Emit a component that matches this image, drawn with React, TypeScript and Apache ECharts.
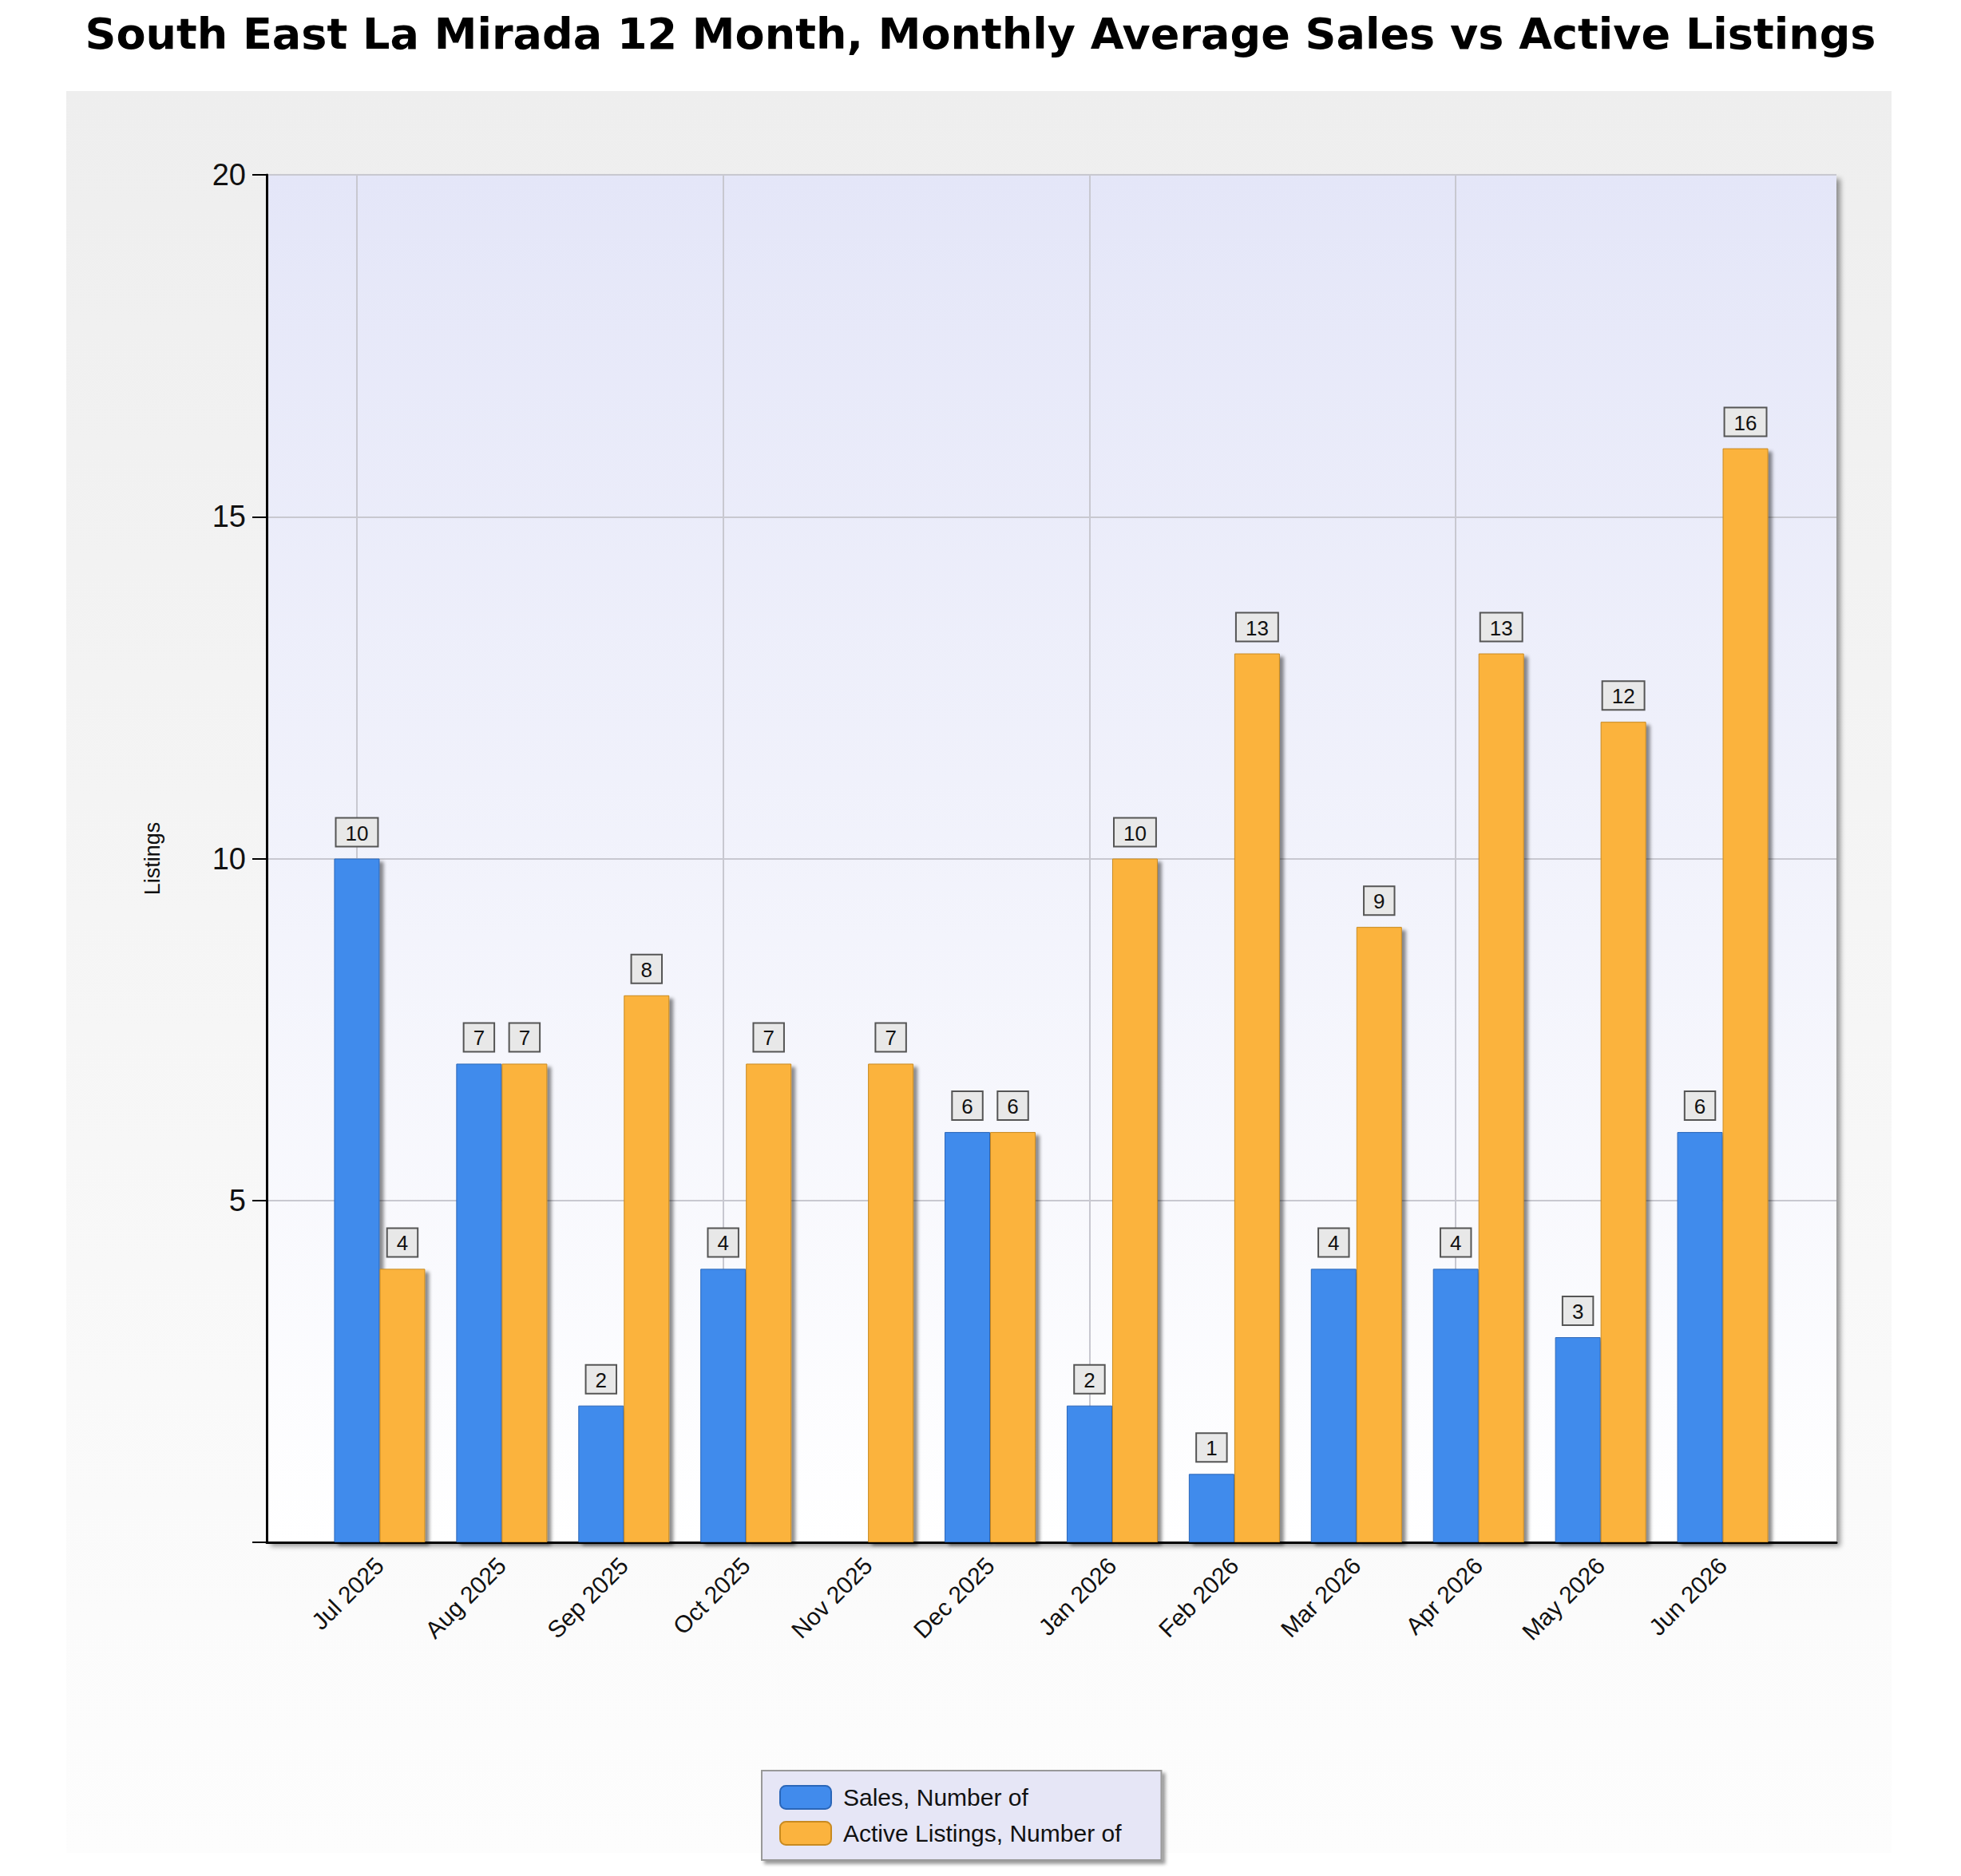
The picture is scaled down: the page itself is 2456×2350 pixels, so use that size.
import { useEffect, useRef } from "react"
import * as echarts from "echarts"

const months = [
  "Jul 2025", "Aug 2025", "Sep 2025", "Oct 2025", "Nov 2025", "Dec 2025",
  "Jan 2026", "Feb 2026", "Mar 2026", "Apr 2026", "May 2026", "Jun 2026",
]
const sales: (number | null)[] = [10, 7, 2, 4, null, 6, 2, 1, 4, 4, 3, 6]
const activeListings = [4, 7, 8, 7, 7, 6, 10, 13, 9, 13, 12, 16]
const verticalGridAt = ["Jul 2025", "Oct 2025", "Jan 2026", "Apr 2026"]

const FONT = "Liberation Sans, Arial, sans-serif"

export default function App() {
  const chartRef = useRef<HTMLDivElement | null>(null)

  useEffect(() => {
    if (!chartRef.current) return
    document.body.style.margin = "0"
    const chart = echarts.init(chartRef.current, undefined, { renderer: "svg" })

    const label = {
      show: true,
      position: "top" as const,
      distance: 16,
      fontSize: 26,
      fontFamily: FONT,
      color: "#111",
      backgroundColor: "#e8e8e8",
      borderColor: "#555",
      borderWidth: 2,
      padding: [5, 11, 3, 11],
    }
    const barShadow = {
      shadowColor: "rgba(0,0,0,0.45)",
      shadowBlur: 4,
      shadowOffsetX: 5,
      shadowOffsetY: 4,
    }

    chart.setOption({
      animation: false,
      backgroundColor: "#fff",
      title: {
        text: "South East La Mirada 12 Month, Monthly Average Sales vs Active Listings",
        left: "center",
        top: 10,
        textStyle: { fontSize: 54, fontWeight: "bold", fontFamily: "Verdana, DejaVu Sans, sans-serif", color: "#000" },
      },
      graphic: [
        {
          type: "rect",
          z: -10,
          shape: { x: 83, y: 114, width: 2286, height: 2207 },
          style: {
            fill: new echarts.graphic.LinearGradient(0, 0, 0, 1, [
              { offset: 0, color: "#eeeeee" },
              { offset: 1, color: "#fdfdfd" },
            ]),
          },
        },
      ],
      grid: [
        {
          left: 334,
          right: 156,
          top: 219,
          bottom: 418,
          show: true,
          borderWidth: 0,
          backgroundColor: new echarts.graphic.LinearGradient(0, 0, 0, 1, [
            { offset: 0, color: "#e4e6f8" },
            { offset: 1, color: "#ffffff" },
          ]),
          shadowColor: "rgba(0,0,0,0.4)",
          shadowBlur: 6,
          shadowOffsetX: 5,
          shadowOffsetY: 5,
        },
        { left: 399, right: 222, top: 219, bottom: 418 },
      ],
      legend: {
        orient: "vertical",
        left: 954,
        top: 2218,
        padding: [18, 50, 18, 22],
        backgroundColor: "#e6e6f6",
        borderColor: "#999",
        borderWidth: 2,
        shadowColor: "rgba(0,0,0,0.4)",
        shadowBlur: 4,
        shadowOffsetX: 4,
        shadowOffsetY: 4,
        itemWidth: 64,
        itemHeight: 29,
        itemGap: 14,
        textStyle: { fontSize: 30, fontFamily: FONT, color: "#111", padding: [0, 0, 0, 10] },
        data: ["Sales, Number of", "Active Listings, Number of"],
      },
      xAxis: [
        {
          type: "value",
          gridIndex: 0,
          min: 0,
          max: 1,
          axisLine: { show: true, onZero: false, lineStyle: { color: "#000", width: 3 } },
          axisTick: { show: false },
          axisLabel: { show: false },
          splitLine: { show: false },
        },
        {
          type: "category",
          gridIndex: 1,
          data: months,
          axisLine: { show: false },
          axisTick: { show: false },
          axisLabel: {
            rotate: 45,
            fontSize: 30,
            fontFamily: FONT,
            color: "#111",
            margin: 24,
          },
        },
      ],
      yAxis: [
        {
          type: "value",
          gridIndex: 0,
          min: 0,
          max: 20,
          interval: 5,
          name: "Listings",
          nameLocation: "middle",
          nameGap: 130,
          nameTextStyle: { fontSize: 27, fontFamily: FONT, color: "#111" },
          axisLine: { show: true, lineStyle: { color: "#000", width: 3 } },
          axisTick: { show: true, length: 18, lineStyle: { color: "#000", width: 2 } },
          axisLabel: {
            fontSize: 38,
            fontFamily: FONT,
            color: "#111",
            margin: 26,
            formatter: (v: number) => (v === 0 ? "" : String(v)),
          },
          splitLine: { lineStyle: { color: "#c8c8d0", width: 2 } },
        },
        {
          type: "value",
          gridIndex: 1,
          min: 0,
          max: 20,
          interval: 5,
          show: false,
          splitLine: { show: false },
        },
      ],
      series: [
        {
          name: "Sales, Number of",
          type: "bar",
          xAxisIndex: 1,
          yAxisIndex: 1,
          data: sales,
          barWidth: 57,
          barGap: "0%",
          itemStyle: { color: "#418bec", borderColor: "#2a66b8", borderWidth: 1, ...barShadow },
          label,
          markLine: {
            silent: true,
            symbol: "none",
            label: { show: false },
            lineStyle: { color: "#c8c8d0", width: 2, type: "solid" },
            data: verticalGridAt.map((m) => ({ xAxis: m })),
            z: 0,
          },
        },
        {
          name: "Active Listings, Number of",
          type: "bar",
          xAxisIndex: 1,
          yAxisIndex: 1,
          data: activeListings,
          barWidth: 57,
          itemStyle: { color: "#fbb33e", borderColor: "#c88a20", borderWidth: 1, ...barShadow },
          label,
        },
      ],
    })

    return () => chart.dispose()
  }, [])

  return <div ref={chartRef} style={{ width: 2456, height: 2350 }} />
}
